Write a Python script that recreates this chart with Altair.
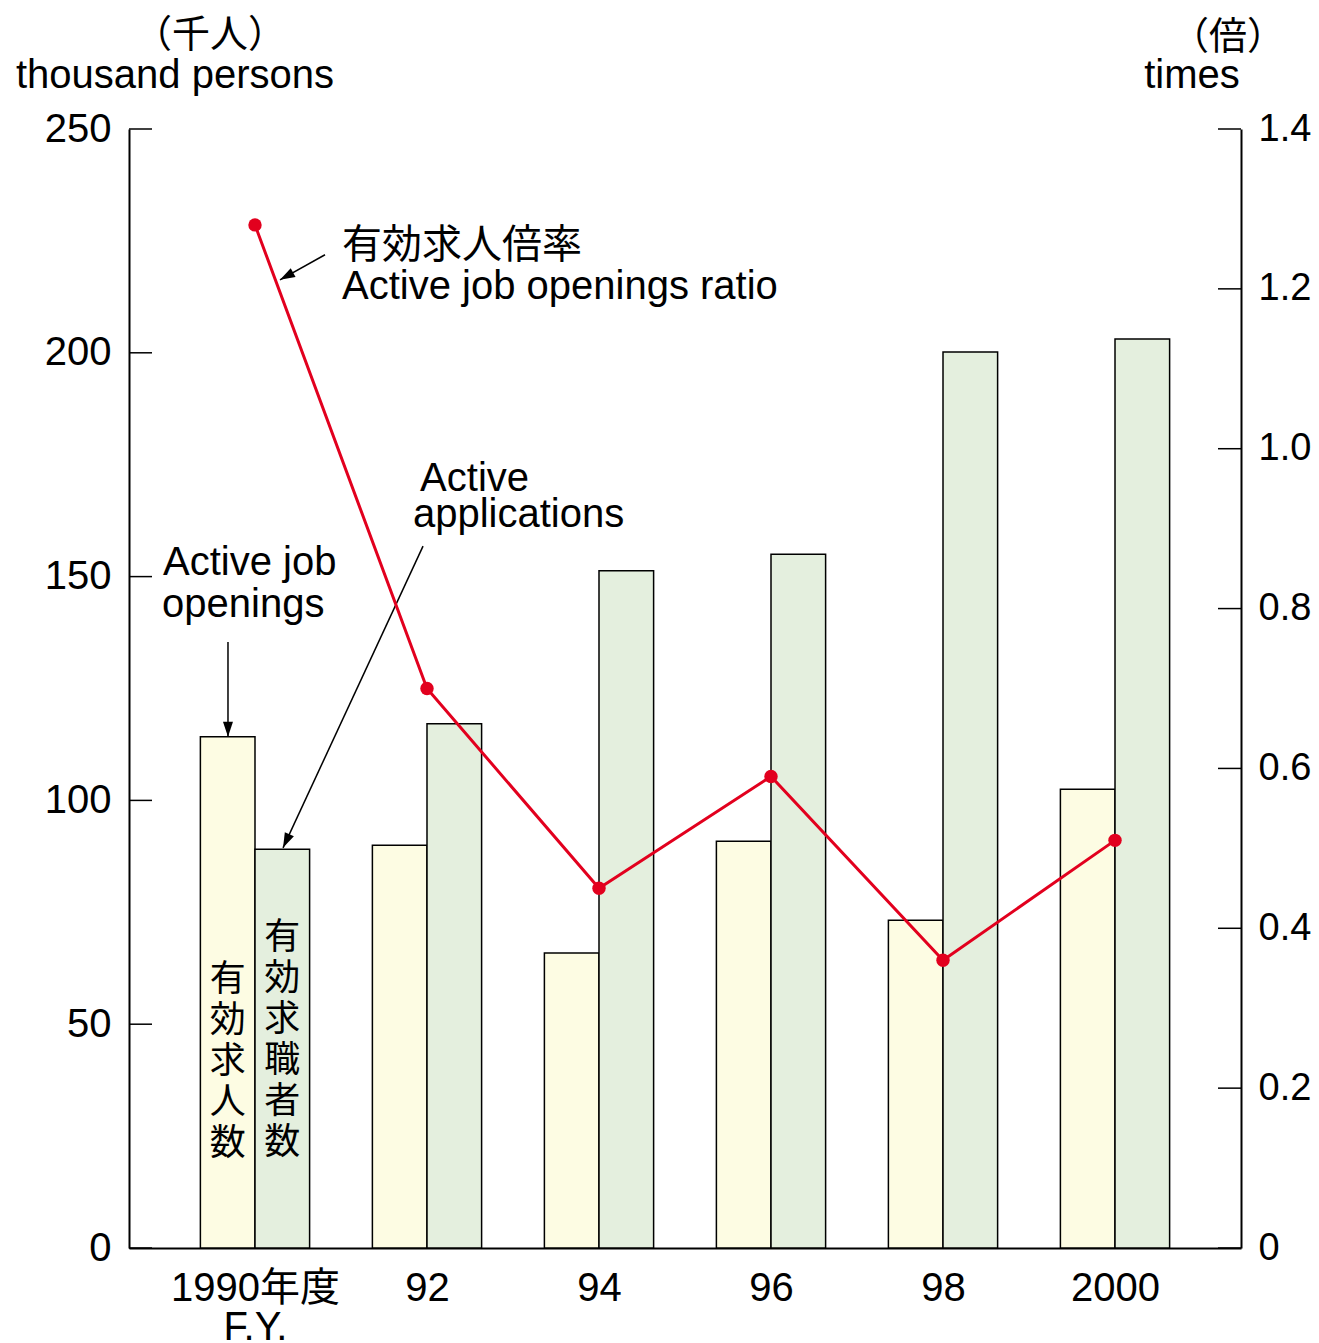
import json
import altair as alt
import pandas as pd

# ---------------- data ----------------
years = [1990, 1992, 1994, 1996, 1998, 2000]
x_labels = ["1990年度", "92", "94", "96", "98", "2000"]
x_sub = "F.Y."
openings = [114.2, 90.0, 65.9, 90.9, 73.2, 102.5]        # thousand persons
applications = [89.1, 117.1, 151.3, 155.0, 200.2, 203.1]  # thousand persons
ratio = [1.28, 0.70, 0.45, 0.59, 0.36, 0.51]              # times
left_ticks = [0, 50, 100, 150, 200, 250]
right_ticks = [0, 0.2, 0.4, 0.6, 0.8, 1.0, 1.2, 1.4]
series_names = ["openings", "applications"]
series_colors = ["#FDFCE3", "#E4EFDE"]

FONT = "Liberation Sans, Noto Sans CJK JP"
CJK = "Noto Sans CJK JP"
RED = "#E2001E"
BAR_W = 0.635  # bar width in years

x_scale = alt.Scale(domain=[1988.535, 2001.465], nice=False, zero=False)
yl_scale = alt.Scale(domain=[0, 250], nice=False, zero=False)
yr_scale = alt.Scale(domain=[0, 1.4], nice=False, zero=False)

# ---------------- tables ----------------
rows = []
for y, o, a in zip(years, openings, applications):
    rows.append({"year": y, "series": "openings", "value": o, "x0": y - BAR_W, "x1": y, "base": 0})
    rows.append({"year": y, "series": "applications", "value": a, "x0": y, "x1": y + BAR_W, "base": 0})
df_bars = pd.DataFrame(rows)
df_ratio = pd.DataFrame({"year": years, "ratio": ratio})
df_lt = pd.DataFrame({"v": left_ticks})
df_rt = pd.DataFrame({"v": right_ticks})

# x label expression
parts = []
for i, (y, lab) in enumerate(zip(years, x_labels)):
    val = json.dumps([lab, x_sub], ensure_ascii=False) if i == 0 else json.dumps(lab, ensure_ascii=False)
    parts.append(f"datum.value == {y} ? {val} : ")
x_expr = "".join(parts) + "''"

x_axis = alt.Axis(values=years, labelExpr=x_expr, ticks=False, grid=False, title=None,
                  orient="bottom",
                  labelFont=FONT, labelFontSize=40, labelPadding=20, labelLineHeight=39,
                  labelAngle=0, labelOverlap=False, labelFlush=False, labelColor="black",
                  domainColor="black", domainWidth=2)
left_axis = alt.Axis(values=left_ticks, orient="left", ticks=False, grid=False, title=None,
                     labelFont=FONT, labelFontSize=40, labelPadding=18, labelColor="black",
                     domainColor="black", domainWidth=2)
right_axis = alt.Axis(values=right_ticks, orient="right", ticks=False, grid=False, title=None,
                      labelExpr="datum.value == 0 ? '0' : format(datum.value, '.1f')",
                      labelFont=FONT, labelFontSize=38, labelPadding=17, labelColor="black",
                      domainColor="black", domainWidth=2)


def X(field):
    return alt.X(field, scale=x_scale, axis=x_axis)


def YL(field, axis=None):
    return alt.Y(field, scale=yl_scale, axis=axis)


def YR(field, axis=None):
    return alt.Y(field, scale=yr_scale, axis=axis)


# ---------------- left-scale layers ----------------
bars = alt.Chart(df_bars).mark_bar(stroke="black", strokeWidth=1.5).encode(
    x=X("x0:Q"),
    x2="x1:Q",
    y=YL("value:Q", left_axis),
    y2="base:Q",
    color=alt.Color("series:N", scale=alt.Scale(domain=series_names, range=series_colors), legend=None),
)

lticks = alt.Chart(df_lt).mark_rule(color="black", strokeWidth=1.5).encode(
    y=YL("v:Q"),
    x=alt.value(0), x2=alt.value(23),
)

# vertical labels in the first pair of bars (y = centre of first character)
df_vt = pd.DataFrame({
    "x": [years[0] - BAR_W / 2, years[0] + BAR_W / 2],
    "y": [59.9, 69.3],
    "t": ["\n".join("有効求人数"), "\n".join("有効求職者数")],
})
vtext = alt.Chart(df_vt).mark_text(lineBreak="\n", lineHeight=41, font=CJK, fontSize=36,
                                   align="center", baseline="middle", color="black").encode(
    x=X("x:Q"), y=YL("y:Q"), text="t:N",
)

# annotation leader lines (data coordinates)
df_lines = pd.DataFrame({
    "x": [1990.814, 1991.954, 1989.686],
    "y": [221.9, 156.8, 135.4],
    "x2": [1990.291, 1990.326, 1989.686],
    "y2": [216.3, 89.4, 114.2],
    "ang": [61, 25, 0],
})
leaders = alt.Chart(df_lines).mark_rule(color="black", strokeWidth=1.5).encode(
    x=X("x:Q"), x2="x2:Q", y=YL("y:Q"), y2="y2:Q",
)
heads = alt.Chart(df_lines).mark_point(shape="M-0.5,-1.5L0.5,-1.5L0,0Z", filled=True, size=400,
                                       color="black", opacity=1, strokeWidth=0).encode(
    x=X("x2:Q"), y=YL("y2:Q"), angle=alt.Angle("ang:Q", scale=None),
)

df_cjk = pd.DataFrame({"x": [1991.012], "y": [223.8], "t": ["有効求人倍率"]})
cjk_text = alt.Chart(df_cjk).mark_text(font=CJK, fontSize=40, align="left",
                                       baseline="middle", color="black").encode(
    x=X("x:Q"), y=YL("y:Q"), text="t:N")

df_en = pd.DataFrame({
    "x": [1991.012, 1991.92, 1991.837, 1988.93, 1988.92],
    "y": [212.0, 169.2, 161.0, 150.4, 141.0],
    "t": ["Active job openings ratio", "Active", "applications", "Active job", "openings"],
})
en_text = alt.Chart(df_en).mark_text(font=FONT, fontSize=40, align="left",
                                     baseline="alphabetic", color="black").encode(
    x=X("x:Q"), y=YL("y:Q"), text="t:N")

# ---------------- right-scale layers ----------------
line = alt.Chart(df_ratio).mark_line(color=RED, strokeWidth=3).encode(
    x=X("year:Q"), y=YR("ratio:Q", right_axis),
)
pts = alt.Chart(df_ratio).mark_circle(color=RED, size=180, opacity=1).encode(
    x=X("year:Q"), y=YR("ratio:Q"),
)
rticks = alt.Chart(df_rt).mark_rule(color="black", strokeWidth=1.5).encode(
    y=YR("v:Q"),
    x=alt.value(1089), x2=alt.value(1112),
)

# axis unit captions (pixel placement outside the plot area)
unit_caps = [
    ("（千人）", CJK, 38, "middle", 81, -93),
    ("thousand persons", FONT, 40, "alphabetic", 46, -41),
    ("（倍）", CJK, 38, "middle", 1099, -91),
    ("times", FONT, 40, "alphabetic", 1063, -41),
]
unit_layers = []
for txt, fnt, fs, bl, px, py in unit_caps:
    unit_layers.append(
        alt.Chart(pd.DataFrame({"t": [txt]})).mark_text(
            font=fnt, fontSize=fs, align="center", baseline=bl, color="black"
        ).encode(x=alt.value(px), y=alt.value(py), text="t:N")
    )

chart = alt.layer(
    bars, lticks, vtext, leaders, heads, cjk_text, en_text, line, pts, rticks, *unit_layers
).resolve_scale(
    y="independent"
).properties(
    width=1112, height=1119,
    background="white",
    autosize=alt.AutoSizeParams(type="none"),
    padding={"left": 121, "top": 121, "right": 70, "bottom": 95},
).configure_view(stroke=None)

chart.save("out.html", embed_options={"renderer": "svg", "actions": False})
